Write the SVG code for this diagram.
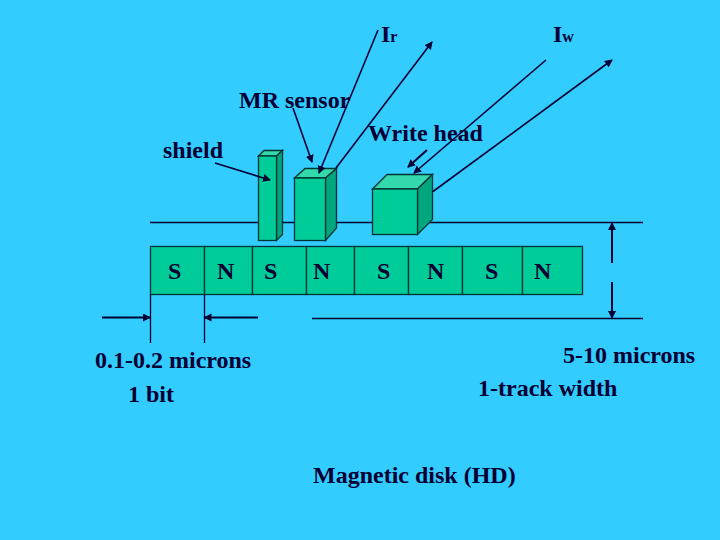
<svg xmlns="http://www.w3.org/2000/svg" width="720" height="540" viewBox="0 0 720 540">
<style>
text{font-family:"Liberation Serif","Times New Roman",serif;font-weight:bold;font-size:24px;fill:#000033}
.s{font-size:16px}
.f{fill:#00cc99;stroke:#003333;stroke-width:1.3}
.t{fill:#33d9aa;stroke:#003333;stroke-width:1.3}
.d{fill:#00a67d;stroke:#003333;stroke-width:1.3}
.l{stroke:#000033;stroke-width:1.3;fill:none}
.a{stroke:#000033;stroke-width:1.6;fill:none;marker-end:url(#h)}
.b{stroke:#000033;stroke-width:2;fill:none;marker-end:url(#h)}
</style>
<defs><marker id="h" markerUnits="userSpaceOnUse" markerWidth="9" markerHeight="9" refX="7" refY="4" orient="auto"><path d="M0 0L8 4L0 8z" fill="#000033"/></marker></defs>
<rect width="720" height="540" fill="#33ccff"/>
<g id="guides">
<line class="l" x1="150" y1="222.5" x2="643" y2="222.5"/>
<line class="l" x1="312" y1="318.5" x2="643" y2="318.5"/>
<line class="l" x1="150.5" y1="294" x2="150.5" y2="343"/>
<line class="l" x1="204.5" y1="294" x2="204.5" y2="343"/>
</g>
<g id="shield-block">
<polygon class="t" points="258.5,156 264,150.5 282.5,150.5 276.5,156"/>
<polygon class="d" points="276.5,156 282.5,150.5 282.5,234.5 276.5,240.5"/>
<rect class="f" x="258.5" y="156" width="18" height="84.5"/>
</g>
<g id="mr-sensor-block">
<polygon class="t" points="294.5,178 305,168.5 336.5,168.5 325.5,178"/>
<polygon class="d" points="325.5,178 336.5,168.5 336.5,228 325.5,240.5"/>
<rect class="f" x="294.5" y="178" width="31" height="62.5"/>
</g>
<g id="write-head-block">
<polygon class="t" points="372.5,189 387,174.5 432.5,174.5 417.5,189"/>
<polygon class="d" points="417.5,189 432.5,174.5 432.5,219.5 417.5,234.5"/>
<rect class="f" x="372.5" y="189" width="45" height="45.5"/>
</g>
<g id="track">
<rect class="f" x="150.5" y="246.5" width="54" height="48"/>
<rect class="f" x="204.5" y="246.5" width="48" height="48"/>
<rect class="f" x="252.5" y="246.5" width="54" height="48"/>
<rect class="f" x="306.5" y="246.5" width="48" height="48"/>
<rect class="f" x="354.5" y="246.5" width="54" height="48"/>
<rect class="f" x="408.5" y="246.5" width="54" height="48"/>
<rect class="f" x="462.5" y="246.5" width="60" height="48"/>
<rect class="f" x="522.5" y="246.5" width="60" height="48"/>
<text x="168" y="279">S</text>
<text x="217" y="279">N</text>
<text x="264" y="279">S</text>
<text x="313" y="279">N</text>
<text x="377" y="279">S</text>
<text x="427" y="279">N</text>
<text x="485" y="279">S</text>
<text x="534" y="279">N</text>
</g>
<g id="connectors">
<line class="a" x1="378" y1="30" x2="319" y2="173"/>
<line class="a" x1="336" y1="168" x2="432" y2="42"/>
<line class="a" x1="546" y1="60" x2="414" y2="173"/>
<line class="a" x1="433" y1="191.5" x2="612" y2="60"/>
<line class="b" x1="427" y1="150" x2="408" y2="167"/>
<line class="a" x1="293" y1="108" x2="312" y2="162"/>
<line class="a" x1="215" y1="163" x2="270" y2="180"/>
<line class="b" x1="102" y1="317.5" x2="150" y2="317.5"/>
<line class="b" x1="258" y1="317.5" x2="204.5" y2="317.5"/>
<line class="b" x1="612" y1="263" x2="612" y2="223"/>
<line class="b" x1="612" y1="282" x2="612" y2="318"/>
</g>
<g id="labels">
<text x="381" y="42">I<tspan class="s">r</tspan></text>
<text x="553" y="42">I<tspan class="s">w</tspan></text>
<text x="239" y="108">MR sensor</text>
<text x="368" y="141">Write head</text>
<text x="163" y="158">shield</text>
<text x="95" y="368">0.1-0.2 microns</text>
<text x="128" y="402">1 bit</text>
<text x="563" y="363">5-10 microns</text>
<text x="478" y="396">1-track width</text>
<text x="313" y="483">Magnetic disk (HD)</text>
</g>
</svg>
